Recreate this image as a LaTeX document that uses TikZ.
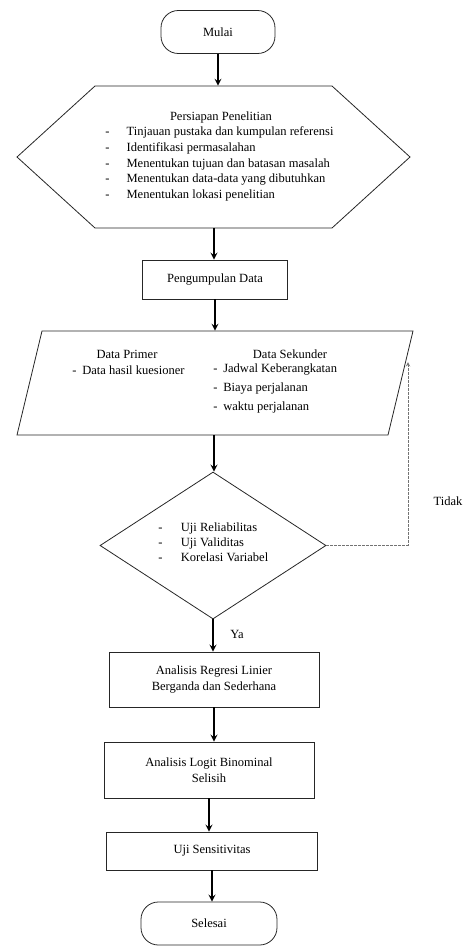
\documentclass[tikz,border=0pt]{standalone}
\usepackage{fontspec}
\setmainfont{Liberation Serif}
\usetikzlibrary{positioning,shapes.geometric}
\newcommand{\pxu}{0.75pt}
\newcommand{\itm}[2][16pt]{\makebox[#1][l]{-}#2}

\begin{document}
\begin{tikzpicture}[
  x=0.75pt, y=-0.75pt,
  font=\fontsize{9.4}{11.9}\selectfont,
  shp/.style={draw=black!85, line width=0.6pt},
  term/.style={shp, rectangle, rounded corners=13pt, inner sep=0pt},
  box/.style={shp, rectangle, align=center, inner sep=0pt},
  hole/.style={rectangle, inner sep=0pt},
  lst/.style={align=left, inner sep=0pt},
  arr/.style={->, >=stealth, line width=1.3pt},
  back/.style={->, >=stealth, draw=black!55, line width=0.5pt, dash pattern=on 2pt off 1pt}
]
  \useasboundingbox (0,0) rectangle (467,947);

  % Mulai
  \node[term, minimum width=114*\pxu, minimum height=43*\pxu] (mulai) at (218,32) {Mulai};

  % Persiapan Penelitian
  \node[hole, minimum width=237*\pxu, minimum height=142*\pxu] (prep) at (214,157) {};
  \draw[shp] (95,86) -- (332,86) -- (410,157) -- (332,228) -- (95,228) -- (17,157) -- cycle;
  \node (prepT) at (221,117) {Persiapan Penelitian};
  \node[lst, anchor=west] (prepL) at (105,164) {\itm{Tinjauan pustaka dan kumpulan referensi}\\
    \itm{Identifikasi permasalahan}\\
    \itm{Menentukan tujuan dan batasan masalah}\\
    \itm{Menentukan data-data yang dibutuhkan}\\
    \itm{Menentukan lokasi penelitian}};

  % Pengumpulan Data
  \node[box, minimum width=145*\pxu, minimum height=39*\pxu] (kumpul) at (215,279.5) {Pengumpulan Data};

  % Data primer / sekunder
  \node[hole, minimum width=346*\pxu, minimum height=104*\pxu] (data) at (214,383) {};
  \draw[shp] (42,331) -- (413,331) -- (388,435) -- (17,435) -- cycle;
  \node (primT) at (127,354) {Data Primer};
  \node[lst, anchor=west] (primL) at (72,370) {\itm[7.5pt]{Data hasil kuesioner}};
  \node (sekT) at (290,354) {Data Sekunder};
  \node[lst, anchor=west, font=\fontsize{9.4}{13.9}\selectfont] (sekL) at (213,388.5) {\itm[7.5pt]{Jadwal Keberangkatan}\\
    \itm[7.5pt]{Biaya perjalanan}\\
    \itm[7.5pt]{waktu perjalanan}};

  % Uji
  \node[shp, diamond, minimum width=226*\pxu, minimum height=147*\pxu, inner sep=0pt] (uji) at (213,545.5) {};
  \node[lst, anchor=west, font=\fontsize{9.4}{11.3}\selectfont] (ujiL) at (158,542) {\itm[17pt]{Uji Reliabilitas}\\
    \itm[17pt]{Uji Validitas}\\
    \itm[17pt]{Korelasi Variabel}};
  \node (tidak) at (448,501) {Tidak};
  \node (ya) at (237,634) {Ya};

  % Analisis
  \node[box, minimum width=210*\pxu, minimum height=55*\pxu] (regresi) at (214,679.5) {Analisis Regresi Linier\\Berganda dan Sederhana};
  \node[box, minimum width=210*\pxu, minimum height=56*\pxu] (logit) at (209,770) {Analisis Logit Binominal\\Selisih};
  \node[box, minimum width=211*\pxu, minimum height=38*\pxu] (sensitiv) at (212,851) {Uji Sensitivitas};

  % Selesai
  \node[term, minimum width=136*\pxu, minimum height=43*\pxu] (selesai) at (209,923.5) {Selesai};

  \coordinate (balik) at (408,362);

  \draw[arr] (mulai) -- (mulai |- prep.north);
  \draw[arr] (prep) -- (prep |- kumpul.north);
  \draw[arr] (kumpul) -- (kumpul |- data.north);
  \draw[arr] (data) -- (data |- uji.north);
  \draw[arr] (uji) -- (uji |- regresi.north);
  \draw[arr] (regresi) -- (regresi |- logit.north);
  \draw[arr] (logit) -- (logit |- sensitiv.north);
  \draw[arr] (sensitiv) -- (sensitiv |- selesai.north);
  \draw[back] (uji.east) -| (balik);
\end{tikzpicture}
\end{document}
